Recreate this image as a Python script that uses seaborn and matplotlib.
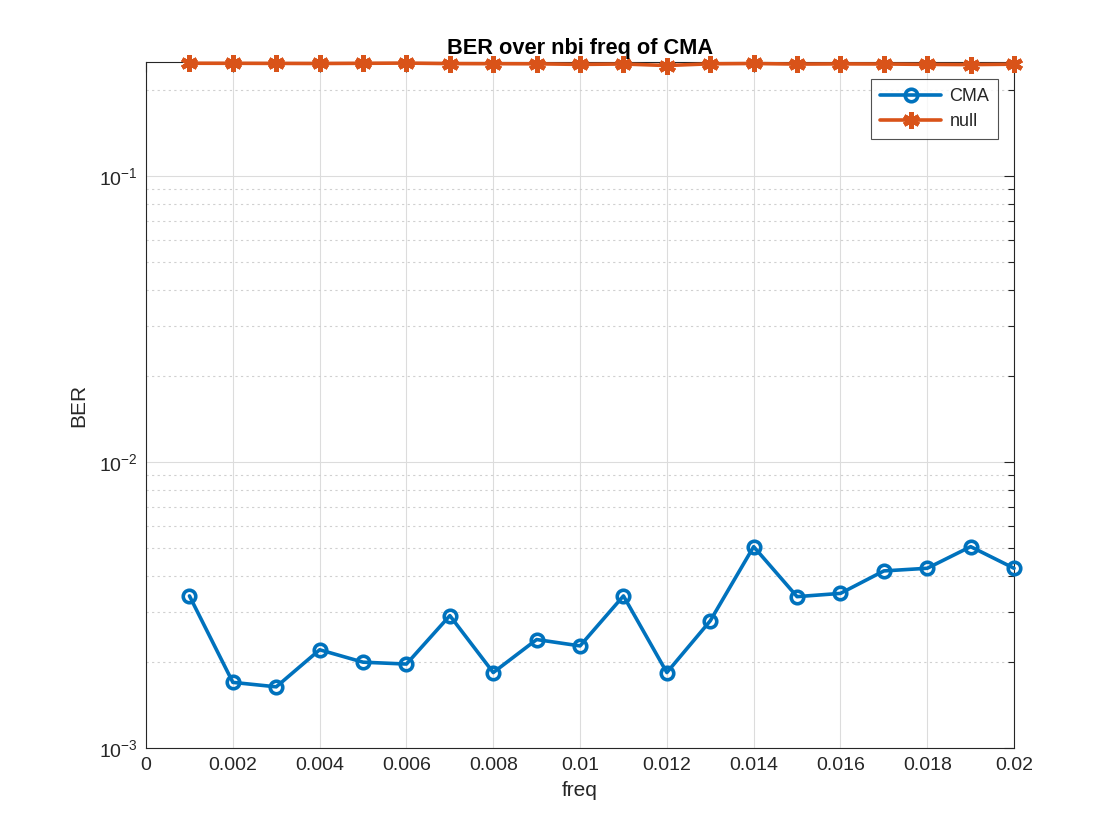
import numpy as np
import pandas as pd
import matplotlib
matplotlib.use("Agg")
import matplotlib.pyplot as plt
import seaborn as sns
from matplotlib.ticker import LogLocator, FixedLocator, NullFormatter

freq = [0.001, 0.002, 0.003, 0.004, 0.005, 0.006, 0.007, 0.008, 0.009, 0.010,
        0.011, 0.012, 0.013, 0.014, 0.015, 0.016, 0.017, 0.018, 0.019, 0.020]
ber_cma = [3.41e-3, 1.70e-3, 1.64e-3, 2.21e-3, 2.00e-3, 1.97e-3, 2.91e-3, 1.84e-3,
           2.40e-3, 2.28e-3, 3.41e-3, 1.84e-3, 2.79e-3, 5.07e-3, 3.39e-3, 3.48e-3,
           4.17e-3, 4.26e-3, 5.07e-3, 4.26e-3]
ber_null = [0.2485, 0.2484, 0.2482, 0.2480, 0.2484, 0.2488, 0.2478, 0.2476, 0.2474, 0.2462,
            0.2470, 0.2440, 0.2474, 0.2480, 0.2468, 0.2472, 0.2470, 0.2462, 0.2458, 0.2466]
series_names = ["CMA", "null"]
xtick_vals = [0, 0.002, 0.004, 0.006, 0.008, 0.01, 0.012, 0.014, 0.016, 0.018, 0.02]
xtick_labels = ["0", "0.002", "0.004", "0.006", "0.008", "0.01", "0.012", "0.014", "0.016", "0.018", "0.02"]

sns.set_style("white")
plt.rcParams['font.family'] = ['Liberation Sans', 'DejaVu Sans']
plt.rcParams['mathtext.fontset'] = 'custom'
plt.rcParams['mathtext.rm'] = 'Liberation Sans'
plt.rcParams['mathtext.it'] = 'Liberation Sans'
plt.rcParams['mathtext.default'] = 'regular'

fig = plt.figure(figsize=(11.2, 8.4), dpi=100)
ax = fig.add_axes([0.1304, 0.1092, 0.775, 0.8164])

c_blue = "#0072BD"
c_orange = "#D95319"

sns.lineplot(x=freq, y=ber_cma, ax=ax, color=c_blue, linewidth=2.6, marker='o',
             markersize=9, markerfacecolor='none', markeredgecolor=c_blue,
             markeredgewidth=2.6, label=series_names[0], zorder=3, clip_on=False)
sns.lineplot(x=freq, y=ber_null, ax=ax, color=c_orange, linewidth=2.6, marker=(6, 2, 0),
             markersize=12, markeredgecolor=c_orange, markeredgewidth=3.2,
             label=series_names[1], zorder=3, clip_on=False)

ax.set_yscale('log')
ax.set_xlim(0, 0.02)
ax.set_ylim(1e-3, 0.25)
ax.xaxis.set_major_locator(FixedLocator(xtick_vals))
ax.set_xticklabels(xtick_labels)
ax.yaxis.set_major_locator(FixedLocator([1e-3, 1e-2, 1e-1]))
ax.set_yticklabels([r'$10^{-3}$', r'$10^{-2}$', r'$10^{-1}$'])
ax.yaxis.set_minor_locator(LogLocator(base=10, subs=np.arange(2, 10)))
ax.yaxis.set_minor_formatter(NullFormatter())

ax.grid(True, which='major', axis='both', color='#DCDCDC', linewidth=0.8, linestyle='-')
ax.grid(True, which='minor', axis='y', color='#D0D0D0', linewidth=0.8, linestyle=(0, (2, 3)))
ax.set_axisbelow(True)

ax.tick_params(which='both', direction='in', top=True, right=True, colors='#262626',
               labelcolor='#262626')
ax.tick_params(which='major', length=7, width=0.8, labelsize=14, pad=6)
ax.tick_params(which='minor', length=4, width=0.8)
for s in ax.spines.values():
    s.set_color('#262626')
    s.set_linewidth(0.8)
    s.set_visible(True)

ax.set_xlabel("freq", fontsize=15, color='#262626', labelpad=5)
ax.set_ylabel("BER", fontsize=15, color='#262626', labelpad=8)
ax.set_title("BER over nbi freq of CMA", fontsize=15.7, fontweight='bold', pad=6,
             color='black')

leg = ax.legend(loc='upper right', bbox_to_anchor=(0.982, 0.976), fontsize=13,
                handlelength=3.4, frameon=True, fancybox=False, borderpad=0.5,
                labelspacing=0.45, handletextpad=0.45, borderaxespad=0)
leg.get_frame().set_edgecolor('#262626')
leg.get_frame().set_linewidth(0.8)
for t in leg.get_texts():
    t.set_color('#262626')

fig.savefig("out.png", dpi=100)
